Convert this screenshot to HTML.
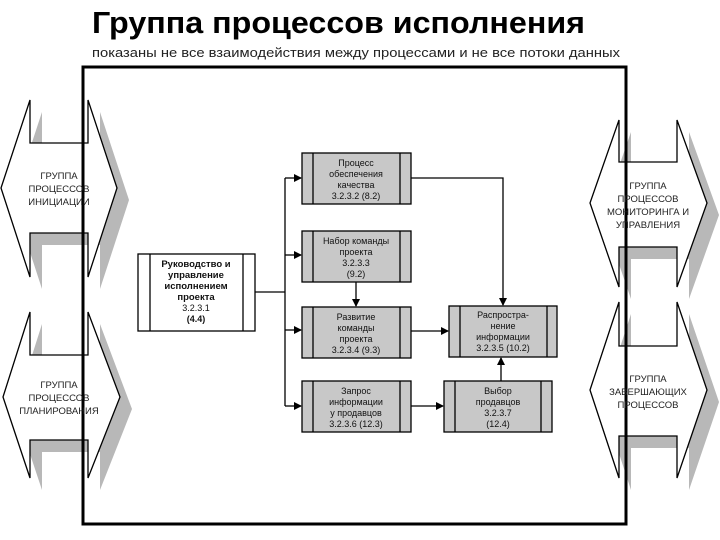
<!DOCTYPE html>
<html><head><meta charset="utf-8"><style>body{margin:0;background:#fff}svg{display:block}</style></head><body>
<svg width="720" height="540" viewBox="0 0 720 540" xmlns="http://www.w3.org/2000/svg" font-family="Liberation Sans, sans-serif">
<defs><marker id="a" markerWidth="8" markerHeight="8" refX="7" refY="4" orient="auto" markerUnits="userSpaceOnUse"><path d="M0,0 L8,4 L0,8 z" fill="#000"/></marker></defs>
<text x="92" y="33" font-size="31" font-weight="bold" textLength="493" lengthAdjust="spacingAndGlyphs">Группа процессов исполнения</text>
<text x="92" y="57" font-size="13" textLength="528" lengthAdjust="spacingAndGlyphs" fill="#222">показаны не все взаимодействия между процессами и не все потоки данных</text>
<!-- shadows -->
<g fill="#b8b8b8">
<polygon points="42,112 42,155 100,155 100,112 129,200 100,289 100,245 42,245 42,289 13,200"/>
<polygon points="42,324 42,367 100,367 100,324 132,409 100,490 100,452 42,452 42,490 15,409"/>
<polygon points="631,132 631,174 689,174 689,132 719,215 689,299 689,259 631,259 631,299 602,215"/>
<polygon points="631,314 631,358 689,358 689,314 719,402 689,490 689,448 631,448 631,490 602,402"/>
</g>
<g fill="#fff" stroke="#000" stroke-width="1.3">
<polygon points="30,100 30,143 88,143 88,100 117,188 88,277 88,233 30,233 30,277 1,188"/>
<polygon points="30,312 30,355 88,355 88,312 120,397 88,478 88,440 30,440 30,478 3,397"/>
<polygon points="619,120 619,162 677,162 677,120 707,203 677,287 677,247 619,247 619,287 590,203"/>
<polygon points="619,302 619,346 677,346 677,302 707,390 677,478 677,436 619,436 619,478 590,390"/>
</g>
<rect x="83" y="67" width="543" height="457" fill="none" stroke="#000" stroke-width="3"/>
<g font-size="9.5" text-anchor="middle" fill="#222">
<text x="59" y="179">ГРУППА</text><text x="59" y="192">ПРОЦЕССОВ</text><text x="59" y="205">ИНИЦИАЦИИ</text>
<text x="59" y="388">ГРУППА</text><text x="59" y="401">ПРОЦЕССОВ</text><text x="59" y="414">ПЛАНИРОВАНИЯ</text>
<text x="648" y="189">ГРУППА</text><text x="648" y="202">ПРОЦЕССОВ</text><text x="648" y="215">МОНИТОРИНГА И</text><text x="648" y="228">УПРАВЛЕНИЯ</text>
<text x="648" y="382">ГРУППА</text><text x="648" y="395">ЗАВЕРШАЮЩИХ</text><text x="648" y="408">ПРОЦЕССОВ</text>
</g>
<!-- boxes -->
<g stroke="#000" stroke-width="1.3">
<rect x="138" y="254" width="117" height="77" fill="#fff"/><line x1="150" y1="254" x2="150" y2="331"/><line x1="243" y1="254" x2="243" y2="331"/>
<g fill="#c8c8c8">
<rect x="302" y="153" width="109" height="51"/><rect x="302" y="231" width="109" height="51"/><rect x="302" y="307" width="109" height="51"/><rect x="302" y="381" width="109" height="51"/>
<rect x="449" y="306" width="108" height="51"/><rect x="444" y="381" width="108" height="51"/>
</g>
<path d="M313,153V204M400,153V204M313,231V282M400,231V282M313,307V358M400,307V358M313,381V432M400,381V432M460,306V357M547,306V357M455,381V432M541,381V432" fill="none"/>
</g>
<g stroke="#000" stroke-width="1.3" fill="none">
<path d="M255,292H285M285,178V406"/>
<path d="M285,178H301" marker-end="url(#a)"/><path d="M285,255H301" marker-end="url(#a)"/><path d="M285,330H301" marker-end="url(#a)"/><path d="M285,406H301" marker-end="url(#a)"/>
<path d="M356,282V306" marker-end="url(#a)"/>
<path d="M411,178H503V305" marker-end="url(#a)"/>
<path d="M411,331H448" marker-end="url(#a)"/>
<path d="M411,406H443" marker-end="url(#a)"/>
<path d="M501,381V358" marker-end="url(#a)"/>
</g>
<g font-size="9" text-anchor="middle" fill="#111">
<g font-weight="bold" font-size="9.5"><text x="196" y="267">Руководство и</text><text x="196" y="278">управление</text><text x="196" y="289">исполнением</text><text x="196" y="300">проекта</text></g>
<text x="196" y="311">3.2.3.1</text><text x="196" y="322" font-weight="bold">(4.4)</text>
<text x="356" y="166">Процесс</text><text x="356" y="177">обеспечения</text><text x="356" y="188">качества</text><text x="356" y="199">3.2.3.2 (8.2)</text>
<text x="356" y="244">Набор команды</text><text x="356" y="255">проекта</text><text x="356" y="266">3.2.3.3</text><text x="356" y="277">(9.2)</text>
<text x="356" y="320">Развитие</text><text x="356" y="331">команды</text><text x="356" y="342">проекта</text><text x="356" y="353">3.2.3.4 (9.3)</text>
<text x="356" y="394">Запрос</text><text x="356" y="405">информации</text><text x="356" y="416">у продавцов</text><text x="356" y="427">3.2.3.6 (12.3)</text>
<text x="503" y="318">Распростра-</text><text x="503" y="329">нение</text><text x="503" y="340">информации</text><text x="503" y="351">3.2.3.5 (10.2)</text>
<text x="498" y="394">Выбор</text><text x="498" y="405">продавцов</text><text x="498" y="416">3.2.3.7</text><text x="498" y="427">(12.4)</text>
</g>
</svg>
</body></html>
